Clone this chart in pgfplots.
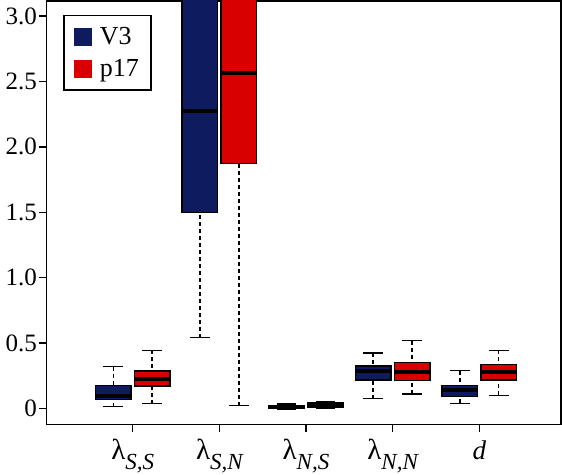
\documentclass[border=0pt]{standalone}
\usepackage{pgfplots}
\pgfplotsset{compat=1.18}
\usepgfplotslibrary{statistics}
\usepackage{fontspec}
\setmainfont{Liberation Serif}[Ligatures=TeX]
\definecolor{vblue}{RGB}{14,27,94}
\definecolor{pred}{RGB}{216,0,0}
\newcommand{\lab}[1]{{\fontsize{29}{29}\selectfont λ}\raisebox{-10pt}{\fontsize{23}{23}\selectfont\itshape #1}}
\pgfplotsset{
  boxplot/draw direction=y,
  boxplot/draw/lower whisker/.code={%
    \draw[black,line width=1.4pt,dash pattern=on 4pt off 3pt]
      (boxplot cs:\pgfplotsboxplotvalue{lower whisker}) -- (boxplot cs:\pgfplotsboxplotvalue{lower quartile});
    \draw[black,line width=1.4pt]
      (boxplot whisker cs:\pgfplotsboxplotvalue{lower whisker},0) -- (boxplot whisker cs:\pgfplotsboxplotvalue{lower whisker},1);
  },
  boxplot/draw/upper whisker/.code={%
    \draw[black,line width=1.4pt,dash pattern=on 4pt off 3pt]
      (boxplot cs:\pgfplotsboxplotvalue{upper whisker}) -- (boxplot cs:\pgfplotsboxplotvalue{upper quartile});
    \draw[black,line width=1.4pt]
      (boxplot whisker cs:\pgfplotsboxplotvalue{upper whisker},0) -- (boxplot whisker cs:\pgfplotsboxplotvalue{upper whisker},1);
  },
  vbox/.style={boxplot/draw direction=y, boxplot/box extend=0.41, boxplot/whisker extend=0.23,
    boxplot/every box/.style={fill=vblue,draw=black,line width=1.5pt},
    boxplot/every median/.style={draw=black,line width=4pt}},
  rbox/.style={boxplot/draw direction=y, boxplot/box extend=0.41, boxplot/whisker extend=0.23,
    boxplot/every box/.style={fill=pred,draw=black,line width=1.5pt},
    boxplot/every median/.style={draw=black,line width=4pt}},
}
\begin{document}
\begin{tikzpicture}
\useasboundingbox (0,0) rectangle (562pt,474pt);
\begin{axis}[
  at={(46.7pt,49.7pt)}, anchor=south west,
  scale only axis, width=514.3pt, height=423.3pt,
  xmin=0.0075, xmax=5.943, ymin=-0.121, ymax=3.115,
  axis line style={line width=1.6pt},
  tick align=outside, xtick pos=bottom, ytick pos=left,
  major tick length=7.5pt,
  every tick/.style={black,line width=1.5pt},
  xtick={1,2,3,4,5},
  xticklabels={{\lab{S,S}},{\lab{S,N}},{\lab{N,S}},{\lab{N,N}},{\fontsize{27}{27}\selectfont\itshape d}},
  xticklabel style={anchor=north, text height=27pt, text depth=10pt, inner sep=0pt},
  ytick={0,0.5,1,1.5,2,2.5,3},
  yticklabels={0,0.5,1.0,1.5,2.0,2.5,3.0},
  yticklabel style={font=\fontsize{25}{25}\selectfont, inner sep=2pt},
  legend style={at={(0.0323,0.967)}, anchor=north west, draw=black, line width=1.3pt,
    font=\fontsize{26}{26}\selectfont, inner xsep=10pt, inner ysep=10pt, row sep=9pt},
  legend cell align=left,
]
\addlegendimage{legend image code/.code={\fill[vblue,draw=none] (0pt,-9pt) rectangle (18pt,9pt); \path[draw=none,fill=none] (0pt,0pt) -- (24pt,0pt);}}
\addlegendimage{legend image code/.code={\fill[pred,draw=none] (0pt,-9pt) rectangle (18pt,9pt); \path[draw=none,fill=none] (0pt,0pt) -- (24pt,0pt);}}
\legend{V3,p17}
% V3 (blue) at k-0.225, p17 (red) at k+0.225
\addplot[vbox, boxplot prepared={draw position=0.775, lower whisker=0.014, lower quartile=0.067, median=0.093, upper quartile=0.177, upper whisker=0.320}] coordinates {};
\addplot[rbox, boxplot prepared={draw position=1.225, lower whisker=0.037, lower quartile=0.170, median=0.225, upper quartile=0.287, upper whisker=0.445}] coordinates {};
\addplot[vbox, boxplot prepared={draw position=1.775, lower whisker=0.541, lower quartile=1.497, median=2.272, upper quartile=3.6, upper whisker=4.5}] coordinates {};
\addplot[rbox, boxplot prepared={draw position=2.225, lower whisker=0.021, lower quartile=1.874, median=2.562, upper quartile=3.5, upper whisker=4.4}] coordinates {};
\addplot[vbox, boxplot prepared={draw position=2.775, lower whisker=-0.003, lower quartile=0.0, median=0.011, upper quartile=0.022, upper whisker=0.033}] coordinates {};
\addplot[rbox, boxplot prepared={draw position=3.225, lower whisker=0.004, lower quartile=0.011, median=0.022, upper quartile=0.040, upper whisker=0.052}] coordinates {};
\addplot[vbox, boxplot prepared={draw position=3.775, lower whisker=0.075, lower quartile=0.218, median=0.284, upper quartile=0.325, upper whisker=0.424}] coordinates {};
\addplot[rbox, boxplot prepared={draw position=4.225, lower whisker=0.111, lower quartile=0.213, median=0.281, upper quartile=0.350, upper whisker=0.518}] coordinates {};
\addplot[vbox, boxplot prepared={draw position=4.775, lower whisker=0.040, lower quartile=0.090, median=0.141, upper quartile=0.177, upper whisker=0.289}] coordinates {};
\addplot[rbox, boxplot prepared={draw position=5.225, lower whisker=0.101, lower quartile=0.218, median=0.281, upper quartile=0.338, upper whisker=0.445}] coordinates {};
\end{axis}
\end{tikzpicture}
\end{document}
